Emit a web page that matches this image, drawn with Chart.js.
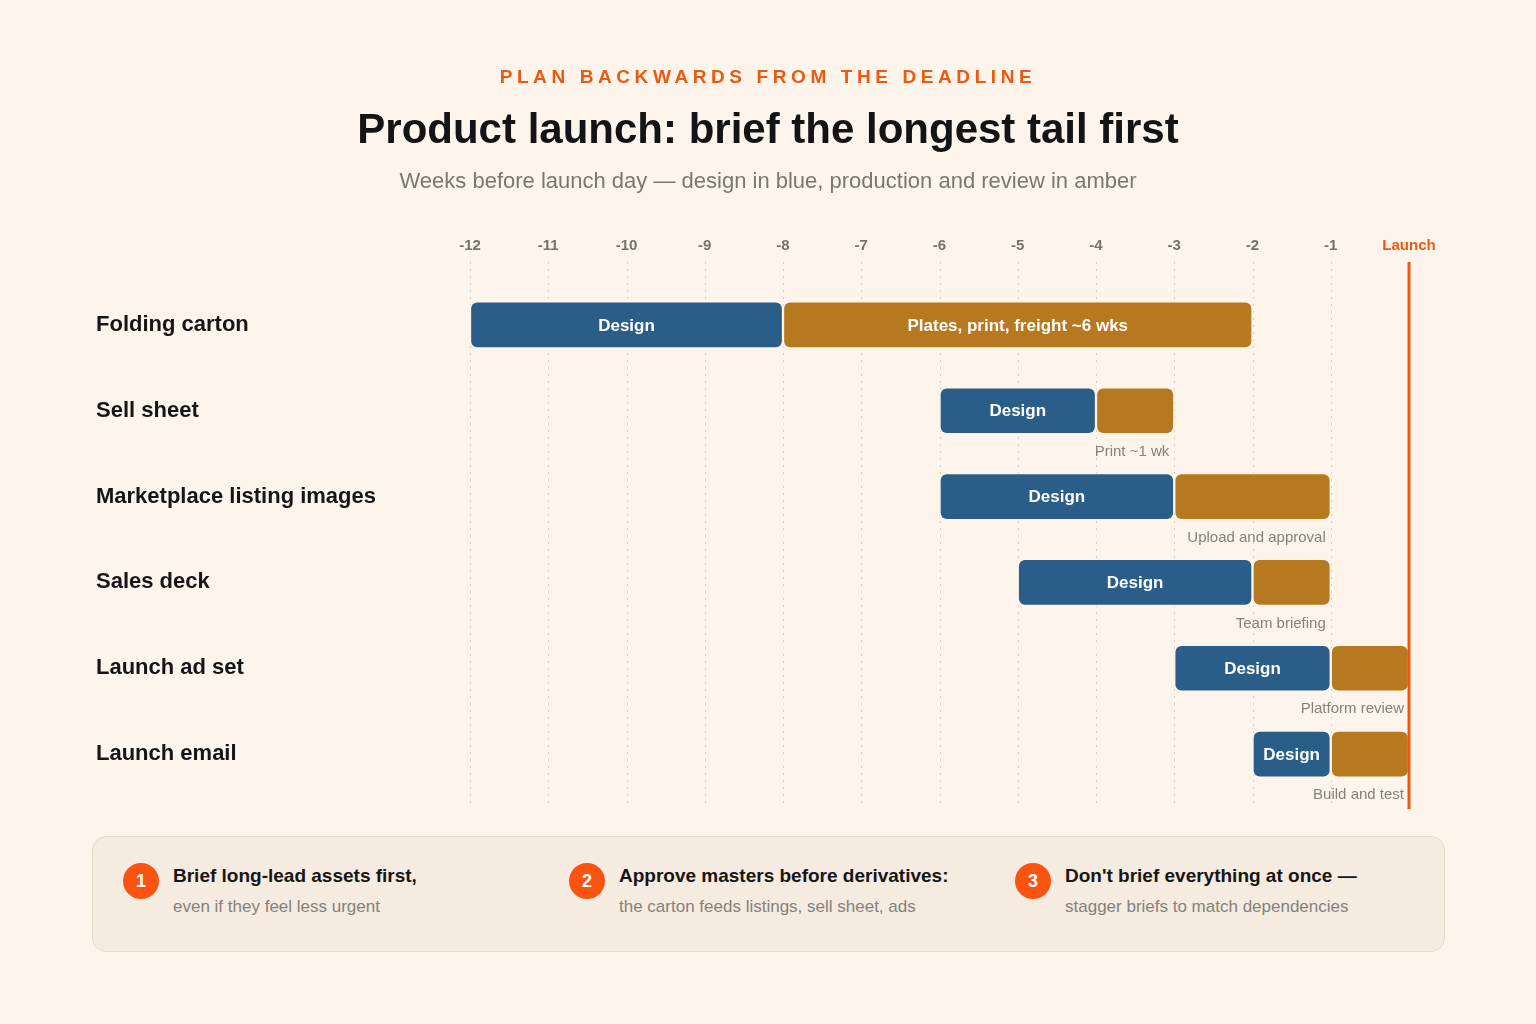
<!DOCTYPE html>
<html>
<head>
<meta charset="utf-8">
<script src="https://cdn.jsdelivr.net/npm/chart.js@4.4.1/dist/chart.umd.min.js"></script>
<style>
  html, body { margin: 0; padding: 0; background: #fdf5eb; }
  body { width: 1536px; height: 1024px; position: relative; overflow: hidden;
         font-family: "Liberation Sans", Arial, sans-serif; }
  #chartWrap { position: absolute; left: 0; top: 0; width: 1536px; height: 1024px; }
  .kicker { position: absolute; top: 66px; left: 0; width: 1536px; text-align: center;
            color: #ec5a12; font-weight: bold; font-size: 19px; letter-spacing: 4.6px; }
  .title { position: absolute; top: 105px; left: 0; width: 1536px; text-align: center;
           color: #141414; font-weight: bold; font-size: 42px; }
  .subtitle { position: absolute; top: 168px; left: 0; width: 1536px; text-align: center;
              color: #7a7672; font-size: 22px; }
  .notes { position: absolute; left: 92px; top: 836px; width: 1353px; height: 116px;
           background: #f5ebe0; border: 1.5px solid #e6dacb; border-radius: 14px; box-sizing: border-box; }
  .note { position: absolute; top: 26px; }
  .badge { position: absolute; left: 0; top: 0; width: 36px; height: 36px; border-radius: 50%;
           background: #fb5410; color: #fff; font-weight: bold; font-size: 18px;
           text-align: center; line-height: 36px; }
  .note b { position: absolute; left: 50px; top: 2px; white-space: nowrap; font-size: 19px; color: #161616; }
  .note span { position: absolute; left: 50px; top: 34px; white-space: nowrap; font-size: 17px; color: #86817b; }
</style>
</head>
<body>
<div id="chartWrap"><canvas id="ganttChart" width="1536" height="1024"></canvas></div>
<div class="kicker">PLAN BACKWARDS FROM THE DEADLINE</div>
<div class="title">Product launch: brief the longest tail first</div>
<div class="subtitle">Weeks before launch day — design in blue, production and review in amber</div>
<div class="notes">
  <div class="note" style="left:30px"><div class="badge">1</div><b>Brief long-lead assets first,</b><span>even if they feel less urgent</span></div>
  <div class="note" style="left:476px"><div class="badge">2</div><b>Approve masters before derivatives:</b><span>the carton feeds listings, sell sheet, ads</span></div>
  <div class="note" style="left:922px"><div class="badge">3</div><b>Don't brief everything at once —</b><span>stagger briefs to match dependencies</span></div>
</div>
<script>
var assets = ["Folding carton", "Sell sheet", "Marketplace listing images", "Sales deck", "Launch ad set", "Launch email"];
var designWeeks = [[-12, -8], [-6, -4], [-6, -3], [-5, -2], [-3, -1], [-2, -1]];
var productionWeeks = [[-8, -2], [-4, -3], [-3, -1], [-2, -1], [-1, 0], [-1, 0]];
var designLabels = ["Design", "Design", "Design", "Design", "Design", "Design"];
var productionInside = ["Plates, print, freight ~6 wks", "", "", "", "", ""];
var productionBelow = ["", "Print ~1 wk", "Upload and approval", "Team briefing", "Platform review", "Build and test"];
var weekTicks = [-12, -11, -10, -9, -8, -7, -6, -5, -4, -3, -2, -1, 0];

var BG = "#fdf5eb";
var BLUE = "#2a5d88";
var AMBER = "#b77920";
var ORANGE = "#ec5a12";
var FONT = "'Liberation Sans', Arial, sans-serif";

var barLabels = {
  id: "barLabels",
  beforeDatasetsDraw: function (chart) {
    var ctx = chart.ctx;
    var x = chart.scales.x;
    ctx.save();
    ctx.strokeStyle = "#d9d0c6";
    ctx.lineWidth = 1;
    ctx.setLineDash([2, 5]);
    weekTicks.forEach(function (w) {
      if (w === 0) return;
      var px = Math.round(x.getPixelForValue(w)) + 0.5;
      ctx.beginPath();
      ctx.moveTo(px, 262);
      ctx.lineTo(px, 806);
      ctx.stroke();
    });
    ctx.restore();
  },
  afterDatasetsDraw: function (chart) {
    var ctx = chart.ctx;
    var x = chart.scales.x;
    ctx.save();
    ctx.textBaseline = "middle";
    var m0 = chart.getDatasetMeta(0);
    var m1 = chart.getDatasetMeta(1);
    ctx.font = "bold 17px " + FONT;
    ctx.fillStyle = "#ffffff";
    ctx.textAlign = "center";
    m0.data.forEach(function (bar, i) {
      ctx.fillText(designLabels[i], (bar.x + bar.base) / 2, bar.y + 1);
    });
    m1.data.forEach(function (bar, i) {
      if (productionInside[i]) ctx.fillText(productionInside[i], (bar.x + bar.base) / 2, bar.y + 1);
    });
    ctx.font = "15px " + FONT;
    ctx.fillStyle = "#86817b";
    ctx.textAlign = "right";
    m1.data.forEach(function (bar, i) {
      if (productionBelow[i]) ctx.fillText(productionBelow[i], Math.max(bar.x, bar.base) - 5, bar.y + 41);
    });
    // launch line
    var lx = x.getPixelForValue(0);
    ctx.strokeStyle = ORANGE;
    ctx.lineWidth = 3;
    ctx.beginPath();
    ctx.moveTo(lx, 262);
    ctx.lineTo(lx, 809);
    ctx.stroke();
    ctx.restore();
  }
};

function barStyle(colour) {
  return {
    backgroundColor: colour,
    borderColor: BG,
    borderWidth: 1.5,
    borderSkipped: false,
    borderRadius: 7.5,
    barThickness: 47,
    grouped: false
  };
}

var ctx = document.getElementById("ganttChart").getContext("2d");
var myChart = new Chart(ctx, {
  type: "bar",
  data: {
    labels: assets,
    datasets: [
      Object.assign({ label: "Design", data: designWeeks }, barStyle(BLUE)),
      Object.assign({ label: "Production / review", data: productionWeeks }, barStyle(AMBER))
    ]
  },
  options: {
    indexAxis: "y",
    responsive: false,
    animation: false,
    layout: { padding: { left: 96, right: 127, top: 210, bottom: 227 } },
    plugins: {
      legend: { display: false },
      tooltip: { enabled: false }
    },
    scales: {
      x: {
        position: "top",
        min: -12,
        max: 0,
        grid: { display: false, drawTicks: false },
        border: { display: false },
        afterBuildTicks: function (scale) {
          scale.ticks = weekTicks.map(function (v) { return { value: v }; });
        },
        ticks: {
          padding: 27,
          font: { family: FONT, size: 15, weight: "bold" },
          color: function (c) { return c.tick.value === 0 ? ORANGE : "#77726d"; },
          callback: function (v) { return v === 0 ? "Launch" : String(v); }
        }
      },
      y: {
        grid: { display: false, drawTicks: false },
        border: { display: false },
        afterFit: function (scale) { scale.width = 374; },
        ticks: {
          crossAlign: "far",
          padding: 0,
          font: { family: FONT, size: 22, weight: "bold" },
          color: "#161616"
        }
      }
    }
  },
  plugins: [barLabels]
});
</script>
</body>
</html>
